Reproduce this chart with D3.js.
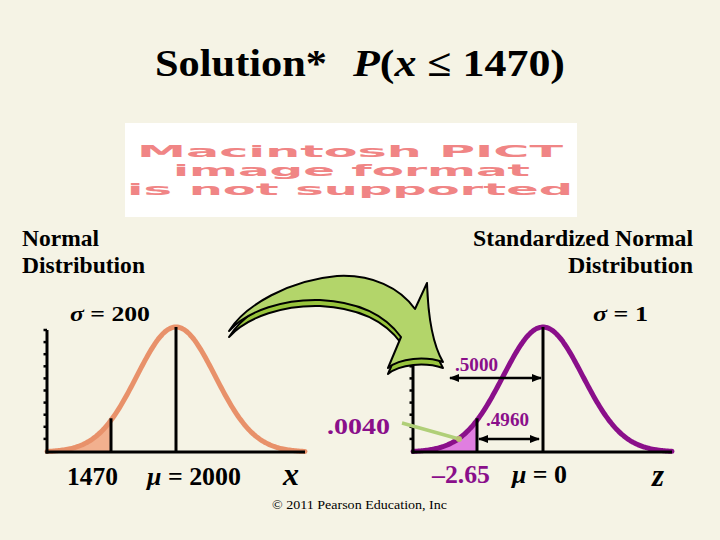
<!DOCTYPE html>
<html>
<head>
<meta charset="utf-8">
<script src="https://cdn.jsdelivr.net/npm/d3@7"></script>
<style>
  html, body { margin: 0; padding: 0; background: #f5f3e5; }
  svg { display: block; }
  text { font-family: "Liberation Serif", "Times New Roman", serif; font-weight: bold; }
</style>
</head>
<body>
<script>
// ---- data ----
const panelTitles = [["Normal", "Distribution"], ["Standardized Normal", "Distribution"]];
const means = [2000, 0];
const sigmas = [200, 1];
const cutoffs = [1470, -2.65];
const cutoffLabels = ["1470", "\u20132.65"];
const meanLabels = ["2000", "0"];
const sigmaLabels = ["200", "1"];
const axisVars = ["x", "z"];
const probLabels = [".5000", ".4960", ".0040"];
const copyright = "\u00a9 2011 Pearson Education, Inc";
const pictLines = ["Macintosh PICT", "image format", "is not supported"];

const W = 720, H = 540;
const bg = "#f5f3e5";
const svg = d3.select("body").append("svg").attr("width", W).attr("height", H);
svg.append("rect").attr("width", W).attr("height", H).attr("fill", bg);

const defs = svg.append("defs");
defs.append("marker").attr("id", "ah").attr("viewBox", "0 0 10 10")
  .attr("refX", 9).attr("refY", 5).attr("markerWidth", 4).attr("markerHeight", 4)
  .attr("orient", "auto-start-reverse").attr("markerUnits", "strokeWidth")
  .append("path").attr("d", "M0,1 L10,5 L0,9 Z").attr("fill", "#000");

function txt(x, y, parts, o = {}) {
  const t = svg.append("text").attr("x", x).attr("y", y)
    .attr("font-size", o.size || 22).attr("fill", o.fill || "#000")
    .attr("text-anchor", o.anchor || "start");
  if (o.len) t.attr("textLength", o.len).attr("lengthAdjust", "spacingAndGlyphs");
  if (o.weight) t.style("font-weight", o.weight);
  if (o.family) t.style("font-family", o.family);
  (Array.isArray(parts) ? parts : [[parts]]).forEach(p => {
    const s = t.append("tspan").text(p[0]);
    if (p[1]) s.style("font-style", "italic");
  });
  return t;
}

// ---- title ----
txt(155, 76, [["Solution*"]], { size: 38, len: 172 });
txt(353, 76, [["P", 1], ["("], ["x", 1], [" \u2264 1470)"]], { size: 38, len: 212 });

// ---- unsupported picture placeholder ----
svg.append("rect").attr("x", 125).attr("y", 123).attr("width", 452).attr("height", 94).attr("fill", "#fff");
const pictPos = [[137, 157, 426], [173, 176, 357], [127, 195, 446]];
pictLines.forEach((s, i) => {
  txt(pictPos[i][0], pictPos[i][1], s, { size: 16, len: pictPos[i][2], fill: "#f08585",
    family: "'DejaVu Sans', sans-serif", weight: 900 });
});

// ---- panel headings ----
txt(22, 246, panelTitles[0][0], { size: 23, len: 77 });
txt(22, 273, panelTitles[0][1], { size: 23, len: 123 });
txt(693, 246, panelTitles[1][0], { size: 23, len: 220, anchor: "end" });
txt(693, 273, panelTitles[1][1], { size: 23, len: 125, anchor: "end" });
txt(70, 321, [["\u03c3", 1], [" = " + sigmaLabels[0]]], { size: 22, len: 80 });
txt(593, 321, [["\u03c3", 1], [" = " + sigmaLabels[1]]], { size: 22, len: 55 });

// ---- panels ----
const baseY = 452, peakY = 327, spread = 1.6;
const yScale = d3.scaleLinear().domain([0, 1]).range([baseY, peakY]);
const panelGeo = [
  { x0: 47, x1: 305, cx: 111, mx: 176, line: "#e8916a", fill: "#f2b08e" },
  { x0: 413, x1: 672, cx: 477, mx: 543, line: "#8a0f8a", fill: "#e07ee0" }
];

panelGeo.forEach((g, i) => {
  const x = d3.scaleLinear().domain([cutoffs[i], means[i]]).range([g.cx, g.mx]);
  const sd = sigmas[i] * spread;
  const dens = v => Math.exp(-0.5 * ((v - means[i]) / sd) ** 2);
  const lo = x.invert(g.x0), hi = x.invert(g.x1);
  const pts = d3.range(0, 201).map(k => lo + (hi - lo) * k / 200);
  const tail = pts.filter(v => v <= cutoffs[i]).concat([cutoffs[i]]);
  const G = svg.append("g");
  G.append("path").datum(tail)
    .attr("d", d3.area().x(v => x(v)).y0(yScale(0)).y1(v => yScale(dens(v))))
    .attr("fill", g.fill);
  G.append("path").datum(pts)
    .attr("d", d3.line().x(v => x(v)).y(v => yScale(dens(v))).curve(d3.curveBasis))
    .attr("fill", "none").attr("stroke", g.line).attr("stroke-width", 5).attr("stroke-linecap", "round");
  // vertical lines
  G.append("line").attr("x1", x(cutoffs[i])).attr("x2", x(cutoffs[i]))
    .attr("y1", yScale(dens(cutoffs[i])) - 2).attr("y2", baseY).attr("stroke", "#000").attr("stroke-width", 3);
  G.append("line").attr("x1", x(means[i])).attr("x2", x(means[i]))
    .attr("y1", yScale(1)).attr("y2", baseY).attr("stroke", "#000").attr("stroke-width", 3);
  // axes
  G.append("line").attr("x1", g.x0).attr("x2", g.x0).attr("y1", 330).attr("y2", baseY + 1.5)
    .attr("stroke", "#000").attr("stroke-width", 3);
  G.append("line").attr("x1", g.x0 - 1.5).attr("x2", g.x1).attr("y1", baseY).attr("y2", baseY)
    .attr("stroke", "#000").attr("stroke-width", 3);
  d3.range(10).forEach(k => {
    G.append("line").attr("x1", g.x0 - 3.5).attr("x2", g.x0).attr("y1", 330 + k * 12.1).attr("y2", 330 + k * 12.1)
      .attr("stroke", "#000").attr("stroke-width", 2.5);
  });
  g.x = x; g.dens = dens;
});

// bottom labels
txt(67, 485, cutoffLabels[0], { size: 25, len: 51 });
txt(147, 485, [["\u03bc", 1], [" = " + meanLabels[0]]], { size: 25, len: 94 });
txt(283, 485, [[axisVars[0], 1]], { size: 31, len: 16 });
txt(432, 483, cutoffLabels[1], { size: 25, len: 58, fill: "#8a0f8a" });
txt(512, 483, [["\u03bc", 1], [" = " + meanLabels[1]]], { size: 25, len: 55 });
txt(652, 486, [[axisVars[1], 1]], { size: 31, len: 12 });

// probability annotations (right panel)
const R = panelGeo[1];
svg.append("line").attr("x1", 450).attr("x2", R.x(means[1]) - 2).attr("y1", 378).attr("y2", 378)
  .attr("stroke", "#000").attr("stroke-width", 2.5)
  .attr("marker-start", "url(#ah)").attr("marker-end", "url(#ah)");
svg.append("line").attr("x1", R.x(cutoffs[1]) + 2).attr("x2", R.x(means[1]) - 4).attr("y1", 439).attr("y2", 439)
  .attr("stroke", "#000").attr("stroke-width", 2.5)
  .attr("marker-start", "url(#ah)").attr("marker-end", "url(#ah)");
txt(455, 371, probLabels[0], { size: 19, len: 43, fill: "#8a0f8a" });
txt(486, 426, probLabels[1], { size: 18, len: 43, fill: "#8a0f8a" });
txt(327, 434, probLabels[2], { size: 23, len: 63, fill: "#8a0f8a" });
svg.append("line").attr("x1", 402).attr("y1", 423).attr("x2", 459).attr("y2", 439)
  .attr("stroke", "#b0cf78").attr("stroke-width", 3.5);
svg.append("circle").attr("cx", 459).attr("cy", 439).attr("r", 3).attr("fill", "#b8c070");

// copyright
svg.append("text").attr("x", 272).attr("y", 509).attr("font-size", 13.5)
  .attr("textLength", 175).attr("lengthAdjust", "spacingAndGlyphs")
  .style("font-weight", "normal").text(copyright);

// ---- curved green arrow (decoration) ----
const arrowD = "M 229 331 C 245 305, 290 280, 337 276 C 372 274, 400 288, 415 309 L 427 283 " +
  "C 428 315, 433 345, 443 362 C 425 356, 400 358, 388 368 L 401 337 " +
  "C 385 315, 360 302, 320 300 C 285 299, 248 310, 229 331 Z";
svg.append("path").attr("d", arrowD).attr("transform", "translate(0,6)")
  .attr("fill", "#98c43c").attr("stroke", "#000").attr("stroke-width", 2).attr("stroke-linejoin", "round");
svg.append("path").attr("d", arrowD)
  .attr("fill", "#b3d56a").attr("stroke", "#000").attr("stroke-width", 2).attr("stroke-linejoin", "round");
</script>
</body>
</html>
